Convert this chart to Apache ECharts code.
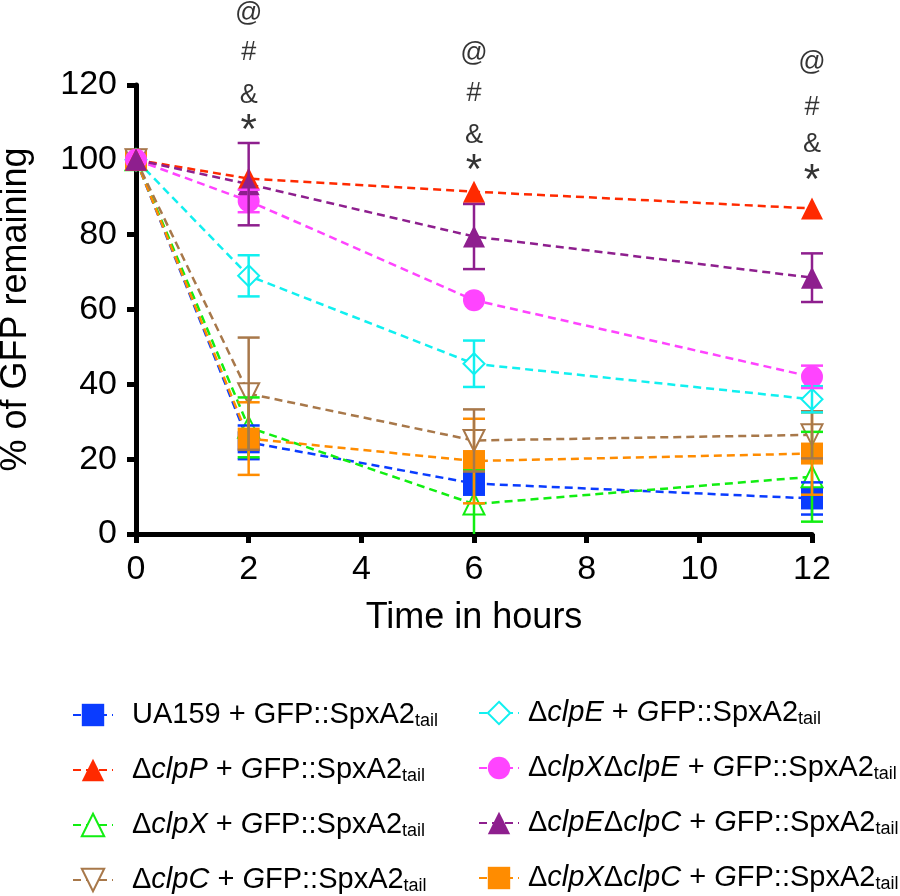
<!DOCTYPE html>
<html><head><meta charset="utf-8">
<script src="https://cdn.jsdelivr.net/npm/echarts@6/dist/echarts.min.js"></script>
<style>html,body{margin:0;padding:0;background:#fff}#c{width:900px;height:896px}</style>
</head><body><div id="c"></div>
<script>
const FONT = '"Liberation Sans", Arial, sans-serif';
const times = [0, 2, 6, 12];
const xTicks = [0, 2, 4, 6, 8, 10, 12];
const yTicks = [0, 20, 40, 60, 80, 100, 120];

const seriesNames = ['UA159', 'clpP', 'clpX', 'clpC', 'clpE', 'clpXclpE', 'clpEclpC', 'clpXclpC'];
const legendTexts = [
  'UA159 + GFP::SpxA2{s|tail}',
  'Δ{i|clpP} + {i|G}FP::SpxA2{s|tail}',
  'Δ{i|clpX} + {i|G}FP::SpxA2{s|tail}',
  'Δ{i|clpC} + {i|G}FP::SpxA2{s|tail}',
  'Δ{i|clpE} + {i|G}FP::SpxA2{s|tail}',
  'Δ{i|clpX}Δ{i|clpE} + {i|G}FP::SpxA2{s|tail}',
  'Δ{i|clpE}Δ{i|clpC} + {i|G}FP::SpxA2{s|tail}',
  'Δ{i|clpX}Δ{i|clpC} + {i|G}FP::SpxA2{s|tail}'
];
const colors = ['#0a3cff', '#ff2a00', '#11ee11', '#a8784a', '#11f0f0', '#ff44ff', '#8e1f8e', '#ff8c00'];
const symbols = ['rect', 'triangle', 'emptyTriangle', 'emptyTriangle', 'emptyDiamond', 'circle', 'triangle', 'rect'];
const rotations = [0, 0, 0, 180, 0, 0, 0, 0];

// means (%)
const ua159Mean    = [100, 24.5, 13.5, 9.5];
const clpPMean     = [100, 95, 91.5, 87];
const clpXMean     = [100, 28.5, 8, 15.3];
const clpCMean     = [100, 37.5, 25, 26.5];
const clpEMean     = [100, 69, 45.5, 36];
const clpXclpEMean = [100, 89, 62.5, 42];
const clpEclpCMean = [100, 93.5, 79.5, 68.5];
const clpXclpCMean = [100, 25.5, 19.5, 21.5];
// error (+/-)
const ua159Err    = [0, 4.5, 3, 4.3];
const clpPErr     = [0, 0, 0, 0];
const clpXErr     = [0, 8, 9, 12];
const clpCErr     = [0, 15, 8.3, 6.3];
const clpEErr     = [0, 5.5, 6.2, 3.5];
const clpXclpEErr = [0, 3, 0, 3];
const clpEclpCErr = [0, 11, 8.7, 6.5];
const clpXclpCErr = [0, 9.7, 11.3, 11];

const means = [ua159Mean, clpPMean, clpXMean, clpCMean, clpEMean, clpXclpEMean, clpEclpCMean, clpXclpCMean];
const errs = [ua159Err, clpPErr, clpXErr, clpCErr, clpEErr, clpXclpEErr, clpEclpCErr, clpXclpCErr];

// significance annotations
const annotX = [2, 2, 2, 2, 6, 6, 6, 6, 12, 12, 12, 12];
const annotY = [139.2, 128.8, 117.3, 107.5, 128.5, 117.8, 106.6, 97.0, 126.1, 114.1, 104, 94.1];
const annotText = ['@', '#', '&', '*', '@', '#', '&', '*', '@', '#', '&', '*'];

const series = [];
const order = [0, 2, 7, 3, 4, 5, 1, 6];
order.forEach(i => {
  const c = colors[i];
  const empty = symbols[i].startsWith('empty');
  series.push({
    name: seriesNames[i], type: 'line', z: 3,
    data: times.map((t, j) => [t, means[i][j]]),
    symbol: symbols[i], symbolSize: empty ? 21 : 22, symbolRotate: rotations[i],
    showAllSymbol: true,
    lineStyle: { color: c, width: 2.5, type: [8, 5] },
    itemStyle: { color: c, borderColor: c, borderWidth: empty ? 3 : 0 },
    emphasis: { disabled: true }, animation: false
  });
});
order.forEach(i => {
  const c = colors[i];
  series.push({
    type: 'custom', z: 4, silent: true, animation: false,
    data: times.map((t, j) => [t, means[i][j], errs[i][j]]),
    renderItem: (params, api) => {
      const x = api.value(0), m = api.value(1), e = api.value(2);
      if (!e) return null;
      const top = api.coord([x, m + e]);
      const bot = api.coord([x, Math.max(0, m - e)]);
      const hw = 11;
      const st = { stroke: c, lineWidth: 2.5 };
      const children = [
        { type: 'line', shape: { x1: top[0], y1: top[1], x2: bot[0], y2: bot[1] }, style: st },
        { type: 'line', shape: { x1: top[0] - hw, y1: top[1], x2: top[0] + hw, y2: top[1] }, style: st }
      ];
      if (m - e > 0) children.push({ type: 'line', shape: { x1: bot[0] - hw, y1: bot[1], x2: bot[0] + hw, y2: bot[1] }, style: st });
      return { type: 'group', children };
    }
  });
});
series.push({
  type: 'scatter', clip: false, silent: true, symbolSize: 1, z: 5, animation: false,
  itemStyle: { color: 'rgba(0,0,0,0)' },
  data: annotX.map((x, k) => [x, annotY[k], annotText[k]]),
  label: {
    show: true, position: 'inside', color: '#000', fontSize: 27, fontFamily: FONT,
    formatter: p => p.data[2] === '*' ? '{big|*}' : '{n|' + p.data[2] + '}',
    rich: {
      big: { fontSize: 42, fontFamily: FONT, color: '#000', lineHeight: 42 },
      n: { fontSize: 27, fontFamily: FONT, color: '#000', lineHeight: 30 }
    }
  }
});

const rich = {
  i: { fontStyle: 'italic', fontSize: 29, fontFamily: FONT, color: '#000' },
  s: { fontSize: 18, lineHeight: 12, verticalAlign: 'bottom', fontFamily: FONT, color: '#000' }
};
function legendCfg(idxs, left, top, padLeft) {
  return {
    orient: 'vertical', left, top, padding: 0, itemWidth: 40, itemHeight: 28, itemGap: 25,
    selectedMode: false,
    data: idxs.map(i => seriesNames[i]),
    formatter: name => legendTexts[seriesNames.indexOf(name)],
    textStyle: { fontSize: 29, fontFamily: FONT, color: '#000', lineHeight: 30, padding: [0, 0, 0, padLeft], rich }
  };
}

const chart = echarts.init(document.getElementById('c'), null, { renderer: 'canvas' });
chart.setOption({
  animation: false,
  backgroundColor: '#fff',
  grid: { left: 136, right: 88, top: 85, bottom: 362, containLabel: false, outerBoundsMode: 'none' },
  xAxis: {
    type: 'value', min: 0, max: 12, interval: 2,
    name: 'Time in hours', nameLocation: 'middle', nameGap: 66,
    nameTextStyle: { fontSize: 36, fontFamily: FONT, color: '#000' },
    axisLine: { lineStyle: { color: '#000', width: 5 } },
    axisTick: { show: true, length: 9, lineStyle: { color: '#000', width: 5 } },
    axisLabel: { fontSize: 34, fontFamily: FONT, color: '#000', margin: 19, formatter: v => xTicks.includes(v) ? String(v) : '' },
    splitLine: { show: false }
  },
  yAxis: {
    type: 'value', min: 0, max: 120, interval: 20,
    name: '% of GFP remaining', nameLocation: 'middle', nameGap: 102,
    nameTextStyle: { fontSize: 36, fontFamily: FONT, color: '#000' },
    axisLine: { show: true, lineStyle: { color: '#000', width: 5 } },
    axisTick: { show: true, length: 9, lineStyle: { color: '#000', width: 5 } },
    axisLabel: { fontSize: 34, fontFamily: FONT, color: '#000', margin: 19, formatter: v => yTicks.includes(v) ? String(v) : '' },
    splitLine: { show: false }
  },
  legend: [
    legendCfg([0, 1, 2, 3], 72, 700, 14),
    legendCfg([4, 5, 6, 7], 478, 698, 4)
  ],
  series
});
</script></body></html>
